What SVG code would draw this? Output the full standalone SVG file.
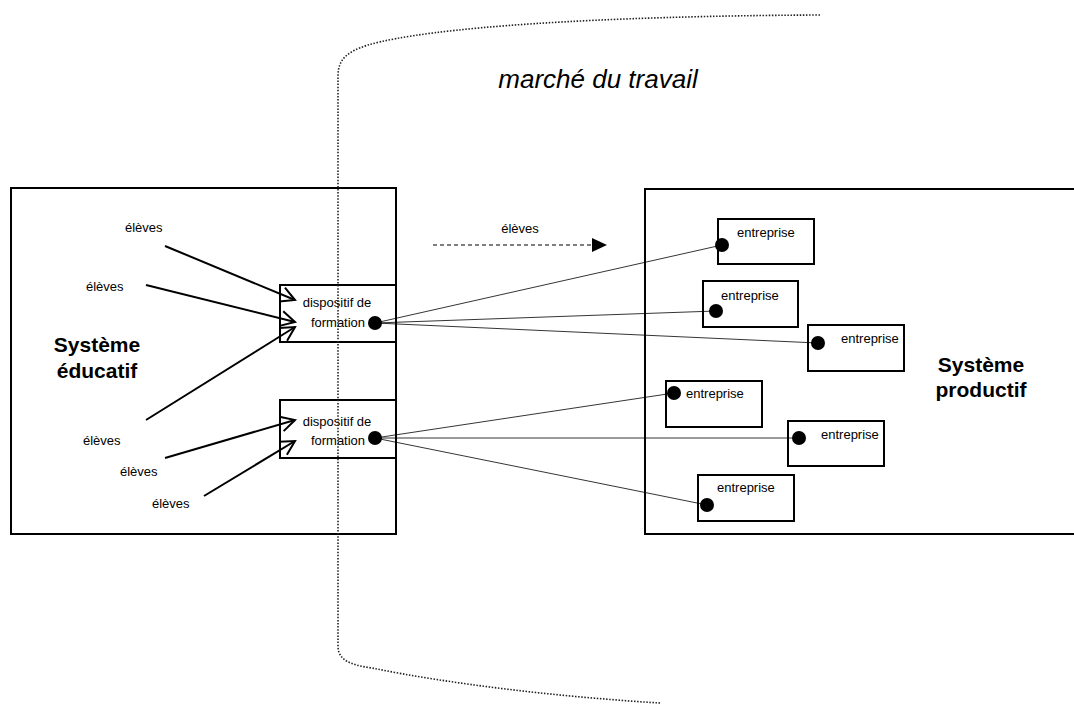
<svg xmlns="http://www.w3.org/2000/svg" width="1074" height="704" viewBox="0 0 1074 704">
<style>
.box{fill:#fff;stroke:#000;stroke-width:2}
.t{font-family:"Liberation Sans",Arial,sans-serif;font-size:13px;fill:#000}
.b{font-family:"Liberation Sans",Arial,sans-serif;font-size:21px;font-weight:bold;fill:#000;text-anchor:middle}
.arr{stroke:#000;stroke-width:2;fill:none;marker-end:url(#open)}
.thin{stroke:#000;stroke-width:0.8;fill:none}
.dot{fill:#000}
</style>
<defs>
<marker id="open" markerUnits="userSpaceOnUse" markerWidth="18" markerHeight="18" refX="15" refY="8" orient="auto" overflow="visible">
<path d="M1,0.5 L15,8 L1,15.5" fill="none" stroke="#000" stroke-width="2"/>
</marker>
<marker id="tri" markerUnits="userSpaceOnUse" markerWidth="16" markerHeight="14" refX="0" refY="7" orient="auto">
<path d="M0,0 L15,7 L0,14 Z" fill="#000"/>
</marker>
</defs>
<rect width="1074" height="704" fill="#fff"/>

<g id="systeme-educatif">
<rect class="box" x="11" y="188" width="385" height="346"/>
<text class="b" x="97" y="352">Système</text>
<text class="b" x="97" y="378">éducatif</text>
</g>
<g id="systeme-productif">
<rect class="box" x="645" y="189" width="440" height="345"/>
<text class="b" x="981" y="372">Système</text>
<text class="b" x="981" y="397">productif</text>
</g>

<g id="labels-eleves">
<text class="t" x="125" y="232">élèves</text>
<text class="t" x="86" y="291">élèves</text>
<text class="t" x="83" y="445">élèves</text>
<text class="t" x="120" y="476">élèves</text>
<text class="t" x="152" y="508">élèves</text>
</g>

<g id="dispositif-1">
<rect class="box" x="280" y="285" width="116" height="57"/>
<text class="t" x="337" y="307" text-anchor="middle">dispositif de</text>
<text class="t" x="338" y="327" text-anchor="middle">formation</text>
<circle class="dot" cx="375" cy="323" r="7"/>
</g>
<g id="dispositif-2">
<rect class="box" x="280" y="400" width="116" height="58"/>
<text class="t" x="337" y="426" text-anchor="middle">dispositif de</text>
<text class="t" x="338" y="445" text-anchor="middle">formation</text>
<circle class="dot" cx="375" cy="438" r="7"/>
</g>

<g id="entreprise-1">
<rect class="box" x="718" y="219" width="96" height="45"/>
<text class="t" x="737" y="237">entreprise</text>
<circle class="dot" cx="722" cy="245" r="7"/>
</g>
<g id="entreprise-2">
<rect class="box" x="703" y="281" width="95" height="46"/>
<text class="t" x="721" y="300">entreprise</text>
<circle class="dot" cx="716" cy="311" r="7"/>
</g>
<g id="entreprise-3">
<rect class="box" x="808" y="325" width="96" height="46"/>
<text class="t" x="841" y="343">entreprise</text>
<circle class="dot" cx="818" cy="343" r="7"/>
</g>
<g id="entreprise-4">
<rect class="box" x="666" y="381" width="96" height="46"/>
<text class="t" x="686" y="398">entreprise</text>
<circle class="dot" cx="674" cy="393" r="7"/>
</g>
<g id="entreprise-5">
<rect class="box" x="788" y="421" width="96" height="45"/>
<text class="t" x="821" y="439">entreprise</text>
<circle class="dot" cx="799" cy="438" r="7"/>
</g>
<g id="entreprise-6">
<rect class="box" x="698" y="475" width="96" height="46"/>
<text class="t" x="717" y="492">entreprise</text>
<circle class="dot" cx="707" cy="505" r="7"/>
</g>

<g id="connectors">
<line class="arr" x1="165" y1="246" x2="295" y2="300"/>
<line class="arr" x1="146" y1="285" x2="295" y2="322"/>
<line class="arr" x1="146" y1="420" x2="295" y2="327"/>
<line class="arr" x1="165" y1="458" x2="295" y2="420"/>
<line class="arr" x1="204" y1="496" x2="295" y2="441"/>
<line class="thin" x1="375" y1="323" x2="722" y2="245"/>
<line class="thin" x1="375" y1="323" x2="716" y2="311"/>
<line class="thin" x1="375" y1="323" x2="818" y2="343"/>
<line class="thin" x1="375" y1="438" x2="674" y2="393"/>
<line class="thin" x1="375" y1="438" x2="799" y2="438"/>
<line class="thin" x1="375" y1="438" x2="707" y2="505"/>
<line x1="433" y1="245" x2="592" y2="245" stroke="#000" stroke-width="1.2" stroke-dasharray="4,3" marker-end="url(#tri)"/>
<text class="t" x="520" y="233" text-anchor="middle">élèves</text>
</g>

<g id="marche-du-travail">
<path d="M820,15 C600,16 430,27 368,45 C346,52 338,60 338,76 L338,646 C338,660 350,665 372,668 C450,684 560,697 660,703" fill="none" stroke="#222" stroke-width="1.6" stroke-dasharray="1.5,1.6"/>
<text x="598" y="88" text-anchor="middle" font-family="'Liberation Sans',Arial,sans-serif" font-size="26" font-style="italic" fill="#000">marché du travail</text>
</g>
</svg>
